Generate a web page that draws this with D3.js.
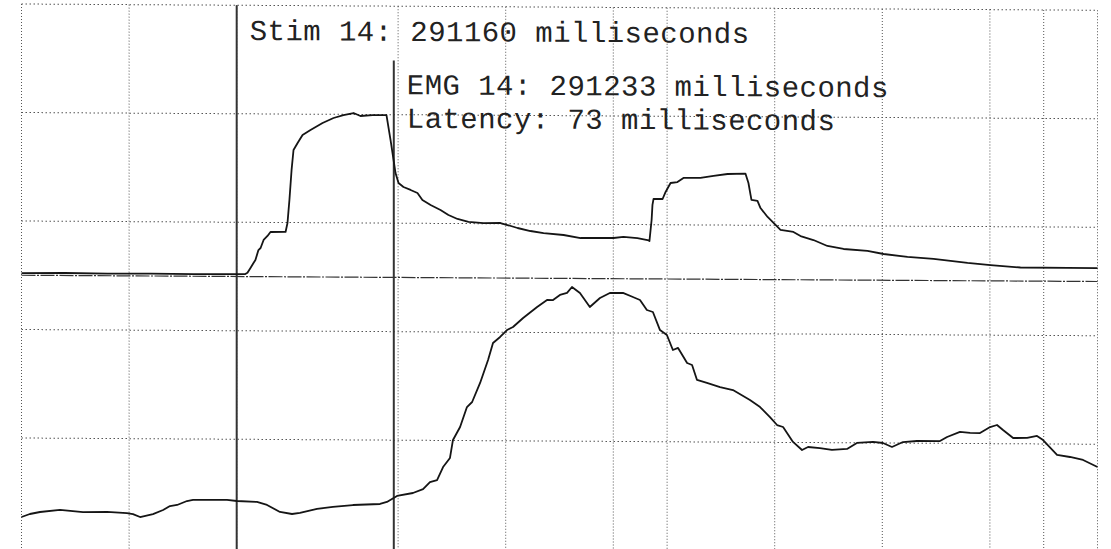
<!DOCTYPE html>
<html>
<head>
<meta charset="utf-8">
<script src="https://cdn.jsdelivr.net/npm/d3@7"></script>
<style>
html,body{margin:0;padding:0;background:#fff;}
svg{display:block;}
</style>
</head>
<body>
<svg id="chart" width="1111" height="549"></svg>
<script>
// ---- data ----
const startTime = 291060;          // ms at left edge
const stimTime = 291160;           // Stim 14
const emgTime = 291233;            // EMG 14
const stimLabel = "Stim 14";
const emgLabel = "EMG 14";
const unit = "milliseconds";

// top trace (time offset ms, value)
const topTime = [0,20,40,60,80,100,104,105,106.4,107.8,108.7,110.1,111.1,112.5,114.3,115.7,122.7,123.6,124.1,124.5,125.5,126.4,128.3,130.6,134.3,139.9,145,149.6,154.3,157.5,163.1,168.2,169.6,171.5,172.9,173.8,175.2,177.5,180.8,184,186.3,190.1,194.7,198.4,202.6,207.7,214.7,222.6,225.8,230.5,236.5,242.6,251.9,259.8,267.7,275.1,279.7,286.2,290.9,291.8,292.8,293.2,293.7,297.9,299.3,301.6,304.8,307.6,315.5,321.6,328.1,336.4,337.8,338.8,339.2,342,343.4,346.7,350.4,352.7,358.7,362,368,374.5,382,393.1,400.6,411.7,423.8,439.6,450.3,464.2,486.1,500];
const topValue = [252.0,252.3,251.9,252.2,252.0,252.1,252.3,253.5,257.9,262.5,265.3,274.5,276.4,283.8,287.5,291.2,291.3,299.6,311.5,320.8,348.5,366.9,373.4,380.8,385.4,391.9,396.6,399.4,401.3,398.6,399.5,399.6,399.6,376.6,358.2,346.2,337.0,333.4,330.7,327.9,321.5,316.9,312.4,307.8,304.2,301.5,300.6,300.7,298.9,296.2,293.5,291.7,290.0,287.3,287.4,287.5,288.5,287.6,285.8,284.9,304.3,318.2,323.7,323.7,330.2,338.5,339.4,343.2,343.3,345.2,347.1,347.6,338.9,327.8,323.3,322.4,315.9,307.7,300.4,295.8,294.0,290.3,286.7,281.3,278.6,276.9,274.2,271.6,269.9,266.4,264.6,262.5,262.3,262.4];

// bottom trace (time offset ms, value)
const botTime = [0,3.9,8.6,17.9,28.6,39.7,49,51.8,55.1,61.1,65.8,69,72.3,76.9,79.7,95.5,100.1,109.4,114.1,120.1,125.7,129.4,137.3,144.7,154,166.6,169.8,174.5,181.9,186.6,189.8,193.1,195.9,199.1,200.5,203.8,207,209.4,213.1,216.8,219.1,222.4,225.6,228.4,233.1,239.6,244.2,247,250.2,253.5,255.8,259.5,264.1,268.8,273.4,279.5,284.1,287.4,290.6,293.4,296.7,299.9,302.7,305.1,309.3,311.6,313.9,318.5,324.6,330.6,338.5,343.2,347.8,351.1,353.9,358.5,362.7,365.5,371,376.6,383.6,388.2,395.7,400.3,404.5,409.6,416.1,426.8,430.1,436.1,440.8,445.4,450.1,453.3,456.1,460.8,467.3,471.9,474.7,481.2,487.2,493.3,500];
const botValue = [27.2,30.0,31.9,33.9,32.1,32.3,31.4,30.5,27.8,30.6,34.4,38.1,39.1,42.8,43.8,44.0,43.1,42.3,39.6,33.2,31.4,32.4,36.2,38.1,40.0,41.1,43.0,48.6,51.4,55.1,61.6,63.5,75.5,83.9,100.5,112.5,130.9,135.6,153.2,174.4,190.1,195.7,202.1,204.9,213.3,223.5,230.0,230.0,234.7,236.6,242.1,236.6,223.8,232.1,236.8,236.9,233.2,230.5,221.3,219.5,202.9,198.4,184.6,186.5,172.7,170.9,157.1,154.4,150.7,148.0,138.9,132.5,123.3,116.0,114.2,100.5,93.1,95.9,95.0,93.3,94.3,99.9,100.9,100.0,96.4,101.0,102.0,102.1,105.9,110.6,109.7,109.7,115.3,117.2,112.6,105.3,105.4,107.3,103.6,89.9,88.1,85.4,79.0];

// grid positions (ms offset, value)
const gridXTicks = [0,50,100,175,225,275,300,350,400,450,475,500];
const gridYTicks = [100,200,300,400,500];
const separatorValue = 250;
const emgLineTop = 450;

// ---- drawing ----
const svg = d3.select("#chart");
svg.append("rect").attr("width",1111).attr("height",549).attr("fill","#fff");

const x = d3.scaleLinear().domain([0,500]).range([21.5,1097.5]);
const y = d3.scaleLinear().domain([0,500]).range([546.5,4]);

// scanned page is slightly sheared
const g = svg.append("g").attr("transform","translate(21,0) skewY(0.332) translate(-21,0)");

// vertical grid
g.append("g").selectAll("line").data(gridXTicks).join("line")
  .attr("x1",d=>x(d)).attr("x2",d=>x(d))
  .attr("y1",y(500)).attr("y2",y(-5))
  .attr("stroke","#555").attr("stroke-width",1)
  .attr("stroke-dasharray","1,2");

// horizontal grid
g.append("g").selectAll("line").data(gridYTicks).join("line")
  .attr("x1",x(0)).attr("x2",x(500))
  .attr("y1",d=>y(d)).attr("y2",d=>y(d))
  .attr("stroke","#555").attr("stroke-width",1)
  .attr("stroke-dasharray","1.5,2.5");

// separator line
g.append("line")
  .attr("x1",x(0)).attr("x2",x(500))
  .attr("y1",y(separatorValue)).attr("y2",y(separatorValue))
  .attr("stroke","#333").attr("stroke-width",1.2)
  .attr("stroke-dasharray","14,1.5,2,1.5");

// stim & EMG markers
const stimT = stimTime - startTime;
const emgT = emgTime - startTime;
g.append("line")
  .attr("x1",x(stimT)).attr("x2",x(stimT))
  .attr("y1",y(500)).attr("y2",y(-5))
  .attr("stroke","#333").attr("stroke-width",2);
g.append("line")
  .attr("x1",x(emgT)).attr("x2",x(emgT))
  .attr("y1",y(emgLineTop)).attr("y2",y(-5))
  .attr("stroke","#333").attr("stroke-width",2);

// traces
const line = d3.line().x(d=>x(d[0])).y(d=>y(d[1]));
g.append("path").datum(topTime.map((t,i)=>[t,topValue[i]]))
  .attr("d",line).attr("fill","none").attr("stroke","#151515")
  .attr("stroke-width",1.8).attr("stroke-linejoin","round");
g.append("path").datum(botTime.map((t,i)=>[t,botValue[i]]))
  .attr("d",line).attr("fill","none").attr("stroke","#151515")
  .attr("stroke-width",1.8).attr("stroke-linejoin","round");

// labels
const font = "'Liberation Mono', 'DejaVu Sans Mono', monospace";
const fs = 29;
const ls = 0.45;
g.append("text").attr("x",x(stimT)+13).attr("y",38.7)
  .attr("font-family",font).attr("font-size",fs).attr("letter-spacing",ls).attr("fill","#222")
  .text(`${stimLabel}: ${stimTime} ${unit}`);
g.append("text").attr("x",x(emgT)+13).attr("y",92)
  .attr("font-family",font).attr("font-size",fs).attr("letter-spacing",ls).attr("fill","#222")
  .text(`${emgLabel}: ${emgTime} ${unit}`);
g.append("text").attr("x",x(emgT)+13).attr("y",125.5)
  .attr("font-family",font).attr("font-size",fs).attr("letter-spacing",ls).attr("fill","#222")
  .text(`Latency: ${emgTime - stimTime} ${unit}`);
</script>
</body>
</html>
